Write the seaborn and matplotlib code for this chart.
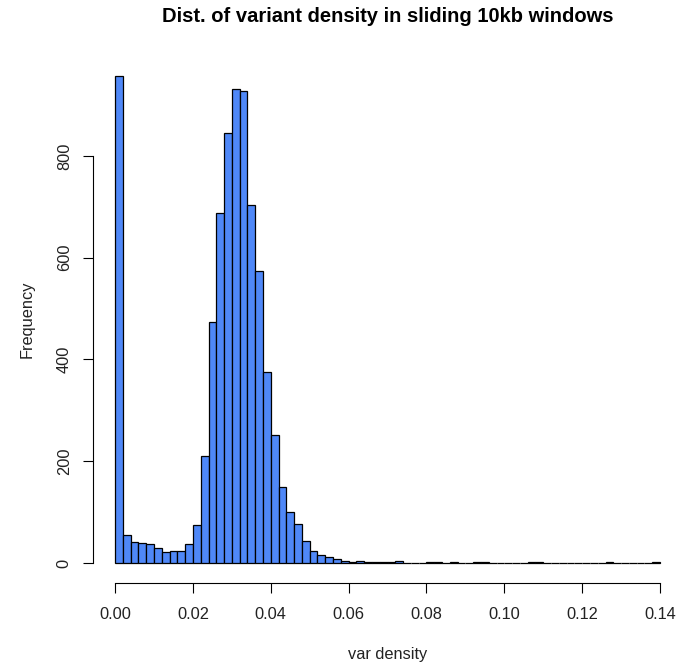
import numpy as np
import pandas as pd
import matplotlib
matplotlib.use("Agg")
import matplotlib.pyplot as plt
import seaborn as sns

# Histogram breaks (0 to 0.14 by 0.002) and counts
breaks = np.round(np.arange(0, 0.1401, 0.002), 3)
counts = [958, 55, 41, 40, 37, 30, 22, 24, 23, 38,
          74, 210, 473, 688, 845, 932, 928, 703, 573, 375,
          251, 150, 100, 76, 43, 23, 15, 12, 8, 3,
          2, 3, 1, 2, 2, 1, 3, 0, 0, 0,
          1, 1, 0, 1, 0, 0, 1, 1, 0, 0,
          0, 0, 0, 1, 1, 0, 0, 0, 0, 0,
          0, 0, 0, 1, 0, 0, 0, 0, 0, 1]
x_ticks = [0.00, 0.02, 0.04, 0.06, 0.08, 0.10, 0.12, 0.14]
y_ticks = [0, 200, 400, 600, 800]

title = "Dist. of variant density in sliding 10kb windows"
x_label = "var density"
y_label = "Frequency"

sns.set_style("white")
plt.rcParams["font.family"] = ["Liberation Sans", "DejaVu Sans"]

df = pd.DataFrame({"density": (breaks[:-1] + breaks[1:]) / 2, "n": counts})

fig = plt.figure(figsize=(6.79, 6.64), dpi=100)
W, H = 679, 664
left, right, bottom, top = 93.3, 681.8, 582.5, 56.0
ax = fig.add_axes([left / W, 1 - bottom / H, (right - left) / W, (bottom - top) / H])

sns.histplot(data=df, x="density", weights="n", bins=list(breaks), stat="count",
             color="#4f88f8", edgecolor="black", linewidth=0.9, alpha=1, ax=ax)

# R-style padding of 4% on each side
xr = breaks[-1] - breaks[0]
ax.set_xlim(breaks[0] - 0.04 * xr, breaks[-1] + 0.04 * xr)
ymax = max(counts)
ax.set_ylim(-0.04 * ymax, 1.04 * ymax)

for s in ["top", "right"]:
    ax.spines[s].set_visible(False)
ax.spines["bottom"].set_bounds(x_ticks[0], x_ticks[-1])
ax.spines["left"].set_bounds(y_ticks[0], y_ticks[-1])
for s in ["bottom", "left"]:
    ax.spines[s].set_color("black")
    ax.spines[s].set_linewidth(0.8)

ax.set_xticks(x_ticks)
ax.set_xticklabels([f"{t:.2f}" for t in x_ticks])
ax.set_yticks(y_ticks)
ax.set_yticklabels([str(t) for t in y_ticks], rotation=90, va="center")
ax.tick_params(axis="both", direction="out", length=7.5, width=0.8,
               bottom=True, left=True,
               color="black", labelsize=11.8, labelcolor="#222222")
ax.tick_params(axis="x", pad=10)
ax.tick_params(axis="y", pad=8)

ax.set_xlabel(x_label, fontsize=11.8, color="#222222")
ax.set_ylabel(y_label, fontsize=11.8, color="#222222")
ax.xaxis.set_label_coords(0.5, (bottom - 655) / (bottom - top))
ax.xaxis.label.set_va("center")
ax.yaxis.set_label_coords((27 - left) / (right - left), 0.5)
ax.yaxis.label.set_va("center")

fig.text(387.5 / W, 1 - 16 / H, title, ha="center", va="center",
         fontsize=14.5, fontweight="bold", color="black")

fig.savefig("out.png", dpi=100)
